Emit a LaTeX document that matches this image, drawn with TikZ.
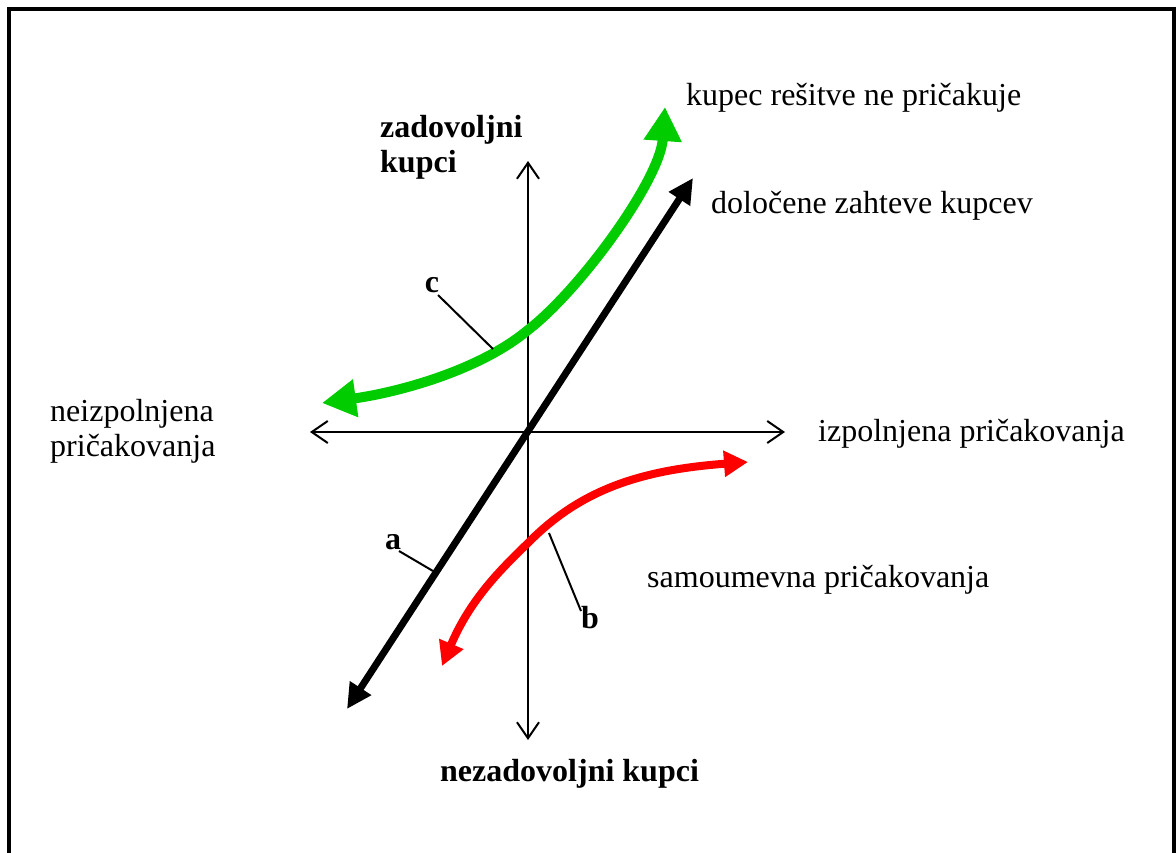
\documentclass[tikz,border=0pt]{standalone}
\usepackage{fontspec}
\setmainfont{Liberation Serif}
\usetikzlibrary{arrows.meta}
\definecolor{cgreen}{RGB}{0,204,0}
\definecolor{cred}{RGB}{255,0,0}
\tikzset{
  txt/.style={inner sep=0pt, font=\fontsize{32}{35}\selectfont},
  btxt/.style={inner sep=0pt, font=\fontsize{32}{35}\selectfont\bfseries},
  axis/.style={line width=2pt, {Straight Barb[length=16pt,width=22pt]}-{Straight Barb[length=16pt,width=22pt]}},
  blackarrow/.style={line width=7pt, black, {Triangle[length=25pt,width=24pt]}-{Triangle[length=25pt,width=24pt]}},
  greenarrow/.style={line width=10pt, cgreen, {Triangle[length=34pt,width=36pt]}-{Triangle[length=34pt,width=36pt]}},
  redarrow/.style={line width=8pt, cred, {Triangle[length=24pt,width=25pt]}-{Triangle[length=24pt,width=25pt]}},
  pointer/.style={line width=2pt, black},
}
\begin{document}
\begin{tikzpicture}[x=1pt,y=-1pt]
\useasboundingbox (0,0) rectangle (1176,852);
\draw[line width=3.5pt] (9,9) rectangle (1174,890);

% axes
\coordinate (xl) at (310,432);
\coordinate (xr) at (785,432);
\coordinate (yt) at (528,161);
\coordinate (yb) at (528,740);
\draw[axis] (xl) -- (xr);
\draw[axis] (yt) -- (yb);

% a
\coordinate (a1) at (347,709);
\coordinate (a2) at (693,178);
\draw[blackarrow] (a1) -- (a2);

% c (green)
\coordinate (c1) at (322,403);
\coordinate (cm) at (528,330);
\coordinate (c2) at (665,107);
\draw[greenarrow] (c1) .. controls (400,392) and (480,370) .. (cm)
  .. controls (580,290) and (660,180) .. (c2);

% b (red)
\coordinate (b1) at (442,666);
\coordinate (bm) at (528,543);
\coordinate (b2) at (748,462);
\draw[redarrow] (b1) .. controls (470,600) and (500,570) .. (bm)
  .. controls (580,490) and (640,470) .. (b2);

% labels a, b, c
\node[btxt, anchor=base] (la) at (393,549) {a};
\node[btxt, anchor=base] (lb) at (590,628) {b};
\node[btxt, anchor=base] (lc) at (432,292) {c};
\coordinate (pa) at (433,571);
\coordinate (pb) at (549,533);
\coordinate (pc) at (493,349);
\draw[pointer] (399,551) -- (pa);
\draw[pointer] (581,611) -- (pb);
\draw[pointer] (438,295) -- (pc);

% texts
\node[txt, anchor=base west] (t1) at (686,105) {kupec rešitve ne pričakuje};
\node[txt, anchor=base west] (t2) at (711,213) {določene zahteve kupcev};
\node[btxt, anchor=north west, align=left] (t3) at (380,115) {zadovoljni\\kupci};
\node[txt, anchor=north west, align=left] (t4) at (50,399) {neizpolnjena\\pričakovanja};
\node[txt, anchor=base west] (t5) at (818,441) {izpolnjena pričakovanja};
\node[txt, anchor=base west] (t6) at (647,587) {samoumevna pričakovanja};
\node[btxt, anchor=base west] (t7) at (440,781) {nezadovoljni kupci};
\end{tikzpicture}
\end{document}
